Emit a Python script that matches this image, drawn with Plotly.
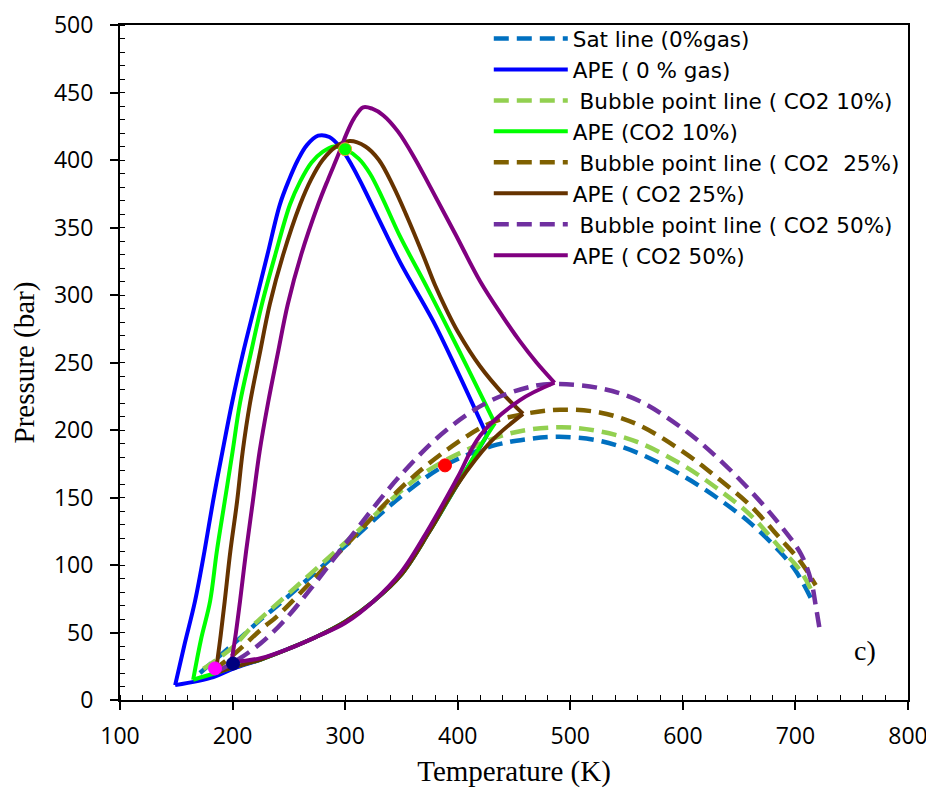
import plotly.graph_objects as go

# ---------------- data ----------------
# Saturation / bubble point lines (dashed)
sat0_T = [171, 200, 227, 240, 300, 350, 388.7, 430, 460, 490, 526, 560, 600, 630, 660, 686, 700, 714]
sat0_P = [20, 41, 61, 70, 114, 151, 173.8, 188, 193, 195, 192, 183, 166, 150, 131, 110, 96, 75]

bub10_T = [174, 200, 218, 250, 300, 366.5, 410, 449, 491, 526, 560, 600, 630, 660, 686, 705, 716]
bub10_P = [23, 39, 55, 79, 116.5, 166, 186, 198, 202, 199, 191, 174, 157, 137, 113, 95, 78]

bub25_T = [183, 200, 227, 239.5, 300, 354.6, 395, 428.7, 460, 491, 526, 560, 600, 630, 660, 686, 705, 718]
bub25_P = [22, 33, 53.5, 62, 114, 161, 188, 205, 212, 215, 213, 204, 184, 165, 144, 120, 102, 85]

bub50_T = [186, 205, 225, 245, 270, 300, 348.7, 390, 430, 470, 490, 526, 560, 600, 630, 660, 686, 705, 714, 718, 722]
bub50_P = [21, 30, 42, 58, 83, 115.5, 166, 200, 222, 233, 234, 231, 222, 201, 180, 155, 130, 108, 88, 70, 50]

# APE envelopes: upper part (start -> peak -> cusp) and lower part (start -> cusp)
ape0_up_T = [149, 157, 166.6, 175, 182.6, 191, 199.5, 209, 220, 231, 242, 250, 258, 266, 276, 286, 296, 306, 316, 330, 349, 378, 400, 426]
ape0_up_P = [11, 40, 73, 110, 147, 184, 220, 256, 293, 330, 367, 385, 400, 411, 418, 417, 409, 396, 380, 356, 324, 281, 243, 196]
ape0_lo_T = [149, 183, 200, 225, 250, 275, 300, 325, 350, 375, 400, 426]
ape0_lo_P = [11, 17, 23, 30, 38, 47, 58, 73, 93, 125, 160, 196]

ape10_up_T = [165, 172, 180, 186, 193, 200, 206.6, 216, 226, 238, 251, 260, 270, 280, 290, 300, 312, 322, 333, 349, 370, 386, 410, 433]
ape10_up_P = [15, 45, 73, 110, 147, 184, 220, 256, 293, 330, 367, 384, 398, 406, 410, 408, 401, 390, 372, 343, 310, 284, 244, 205]
ape10_lo_T = [165, 185, 200, 225, 250, 275, 300, 325, 350, 375, 400, 420, 433]
ape10_lo_P = [15, 20, 24, 30, 38, 47, 58, 73, 93, 125, 160, 188, 205]

ape25_up_T = [185, 189, 193, 198, 204, 209, 215.5, 224, 233, 245, 260, 270, 280, 292, 304, 318, 330, 342.5, 355, 370, 380, 390, 400, 420, 440, 458]
ape25_up_P = [20, 45, 73, 110, 147, 184, 220, 256, 293, 330, 367, 386, 400, 410, 414, 410, 400, 381, 358, 328, 307, 289, 273, 247, 227, 212]
ape25_lo_T = [185, 200, 225, 250, 275, 300, 325, 350, 375, 400, 429, 458]
ape25_lo_P = [20, 24, 30, 38, 47, 58, 73, 93, 125, 160, 191, 212]

ape50_up_T = [199, 203, 206.6, 212, 218, 224, 231.5, 240, 249, 261, 276, 285, 294, 301, 308, 316, 324, 334, 347, 362, 375, 398, 420, 440, 455, 470, 486]
ape50_up_P = [28, 50, 73, 110, 147, 184, 220, 256, 293, 330, 367, 386, 404, 419, 431, 439, 438, 433, 421, 401, 381, 345, 310, 284, 266, 250, 235]
ape50_lo_T = [199, 225, 250, 275, 300, 325, 350, 375, 400, 420, 455, 486]
ape50_lo_P = [28, 31, 38, 47, 57, 73, 95, 128, 165, 196, 222, 235]

# special points
pts_T = [184.4, 200.4, 388.7, 300]
pts_P = [23.4, 27, 173.8, 408]
pts_col = ["#FF00FF", "#000080", "#FF0000", "#00FF00"]
pts_edge = ["#FF00FF", "#000080", "#FF0000", "#F0A030"]

# ---------------- figure ----------------
fig = go.Figure()
DASH = "15px,8px"

def dashed(T, P, name, color):
    fig.add_trace(go.Scatter(x=T, y=P, mode="lines", name=name,
                             line=dict(color=color, width=4.5, dash=DASH, shape="spline", smoothing=1.0)))

def ape(Tu, Pu, Tl, Pl, name, color, grp):
    fig.add_trace(go.Scatter(x=Tu, y=Pu, mode="lines", name=name, legendgroup=grp,
                             line=dict(color=color, width=4, shape="spline", smoothing=1.0)))
    fig.add_trace(go.Scatter(x=Tl, y=Pl, mode="lines", name=name, legendgroup=grp, showlegend=False,
                             line=dict(color=color, width=4, shape="spline", smoothing=1.0)))

dashed(sat0_T, sat0_P, "Sat line (0%gas)", "#0070C0")
ape(ape0_up_T, ape0_up_P, ape0_lo_T, ape0_lo_P, "APE ( 0 % gas)", "#0000FF", "a0")
dashed(bub10_T, bub10_P, " Bubble point line ( CO2 10%)", "#92D050")
ape(ape10_up_T, ape10_up_P, ape10_lo_T, ape10_lo_P, "APE (CO2 10%)", "#00FF00", "a10")
dashed(bub25_T, bub25_P, " Bubble point line ( CO2  25%)", "#7F6000")
ape(ape25_up_T, ape25_up_P, ape25_lo_T, ape25_lo_P, "APE ( CO2 25%)", "#663300", "a25")
dashed(bub50_T, bub50_P, " Bubble point line ( CO2 50%)", "#7030A0")
ape(ape50_up_T, ape50_up_P, ape50_lo_T, ape50_lo_P, "APE ( CO2 50%)", "#800080", "a50")

fig.add_trace(go.Scatter(x=pts_T, y=pts_P, mode="markers", showlegend=False,
                         marker=dict(size=13, color=pts_col, line=dict(color=pts_edge, width=1))))

tickfont = dict(family="Open Sans", size=23, color="black")
titlefont = dict(family="Liberation Serif", size=29, color="black")

fig.update_xaxes(range=[100, 800], dtick=100, tick0=100, showline=True, linecolor="black", linewidth=2,
                 mirror=True, ticks="outside", ticklen=8, tickwidth=1.5, tickcolor="black",
                 minor=dict(ticks="inside", dtick=20, ticklen=5, tickwidth=1, tickcolor="black"),
                 showgrid=False, zeroline=False, tickfont=tickfont, automargin=False,
                 ticklabelstandoff=6,
                 title=dict(text="Temperature (K)", font=titlefont, standoff=11))
fig.update_yaxes(range=[0, 500], dtick=50, showline=True, linecolor="black", linewidth=2,
                 mirror=True, ticks="outside", ticklen=8, tickwidth=1.5, tickcolor="black",
                 minor=dict(ticks="inside", dtick=10, ticklen=5, tickwidth=1, tickcolor="black"),
                 showgrid=False, zeroline=False, tickfont=tickfont, automargin=False,
                 ticklabelstandoff=12,
                 title=dict(text="Pressure (bar)", font=titlefont, standoff=25))

fig.add_annotation(x=762, y=37, text="c)", showarrow=False,
                   font=dict(family="Liberation Serif", size=28, color="black"))

# page body has an 8px margin, so the plot area is offset to land at x 120..908, y 18..700
fig.update_layout(width=934, height=789, margin=dict(l=112, r=34, t=10, b=97),
                  plot_bgcolor="white", paper_bgcolor="white",
                  legend=dict(x=0.468, y=1.0103, xanchor="left", yanchor="top",
                              bgcolor="rgba(0,0,0,0)", font=dict(family="DejaVu Sans", size=21.5, color="black"),
                              itemwidth=74, tracegroupgap=0))

fig.write_html("out.html")
